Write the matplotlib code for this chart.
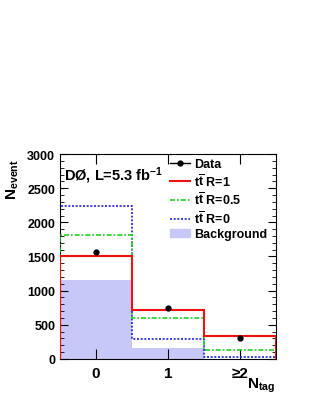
import matplotlib
matplotlib.use('Agg')
import matplotlib.pyplot as plt
import numpy as np
from matplotlib.ticker import MultipleLocator
from matplotlib.lines import Line2D
from matplotlib.patches import Patch

plt.rcParams['font.family'] = ['Liberation Sans', 'DejaVu Sans']
plt.rcParams['font.weight'] = 'bold'
plt.rcParams['mathtext.fontset'] = 'custom'
plt.rcParams['mathtext.rm'] = 'Liberation Sans:bold'
plt.rcParams['mathtext.bf'] = 'Liberation Sans:bold'
plt.rcParams['mathtext.it'] = 'Liberation Sans:bold'

# data
ntag = [0, 1, 2]
tick_labels = ['0', '1', '≥2']
data = [1570, 740, 312]
r1 = [1500, 720, 335]
r05 = [1810, 605, 130]
r0 = [2240, 290, 25]
background = [1150, 160, 0]

edges = np.array([-0.5, 0.5, 1.5, 2.5])

c_r1 = '#ee1111'
c_r05 = '#20d020'
c_r0 = '#2020e0'
c_bkg = '#c8c8f8'
ls_r05 = (0, (3, 1.2, 1, 1.2))
ls_r0 = (0, (1.2, 1))

fig = plt.figure(figsize=(3.11, 4.02), dpi=100)
ax = fig.add_axes([0.193, 0.105, 0.694, 0.509])

ax.stairs(background, edges, fill=True, color=c_bkg, zorder=1)
ax.stairs(r0, edges, baseline=0, color=c_r0, lw=1.2, ls=ls_r0, zorder=2)
ax.stairs(r05, edges, baseline=0, color=c_r05, lw=1.2, ls=ls_r05, zorder=3)
ax.stairs(r1, edges, baseline=0, color=c_r1, lw=1.5, zorder=4)
ax.plot(ntag, data, 'o', color='black', ms=3.5, zorder=5)

ax.set_xlim(-0.5, 2.5)
ax.set_ylim(0, 3000)
ax.set_xticks(ntag)
ax.set_xticklabels(tick_labels, fontsize=11, fontweight='bold')
ax.yaxis.set_major_locator(MultipleLocator(500))
ax.yaxis.set_minor_locator(MultipleLocator(100))
ax.tick_params(axis='both', which='both', direction='in', top=True, right=True)
ax.tick_params(axis='y', which='major', length=6, labelsize=9)
ax.tick_params(axis='y', which='minor', length=3)
ax.tick_params(axis='x', which='major', length=7, pad=5)
for lab in ax.get_yticklabels():
    lab.set_fontweight('bold')

ax.text(0.02, 0.95, r'DØ, L=5.3 fb$^{-1}$', transform=ax.transAxes,
        fontsize=10.5, fontweight='bold', va='top')
fig.text(0.015, 0.605, r'N$_{event}$', rotation=90, fontsize=11,
         fontweight='bold', va='top', ha='left')
fig.text(0.885, 0.018, r'N$_{tag}$', fontsize=11, fontweight='bold',
         ha='right', va='bottom')

ttbar = r'$t\overline{t}$'
handles = [Line2D([], [], color='black', marker='o', ms=3.5, lw=1),
           Line2D([], [], color=c_r1, lw=1.5),
           Line2D([], [], color=c_r05, lw=1.2, ls=ls_r05),
           Line2D([], [], color=c_r0, lw=1.2, ls=ls_r0),
           Patch(color=c_bkg)]
labels = ['Data', ttbar + ' R=1', ttbar + ' R=0.5', ttbar + ' R=0', 'Background']
ax.legend(handles, labels, loc='upper left', bbox_to_anchor=(0.485, 1.005), frameon=False,
          prop={'weight': 'bold', 'size': 9}, handlelength=1.6, labelspacing=0.2,
          handletextpad=0.35, borderaxespad=0)

fig.savefig('out.png', dpi=100)
